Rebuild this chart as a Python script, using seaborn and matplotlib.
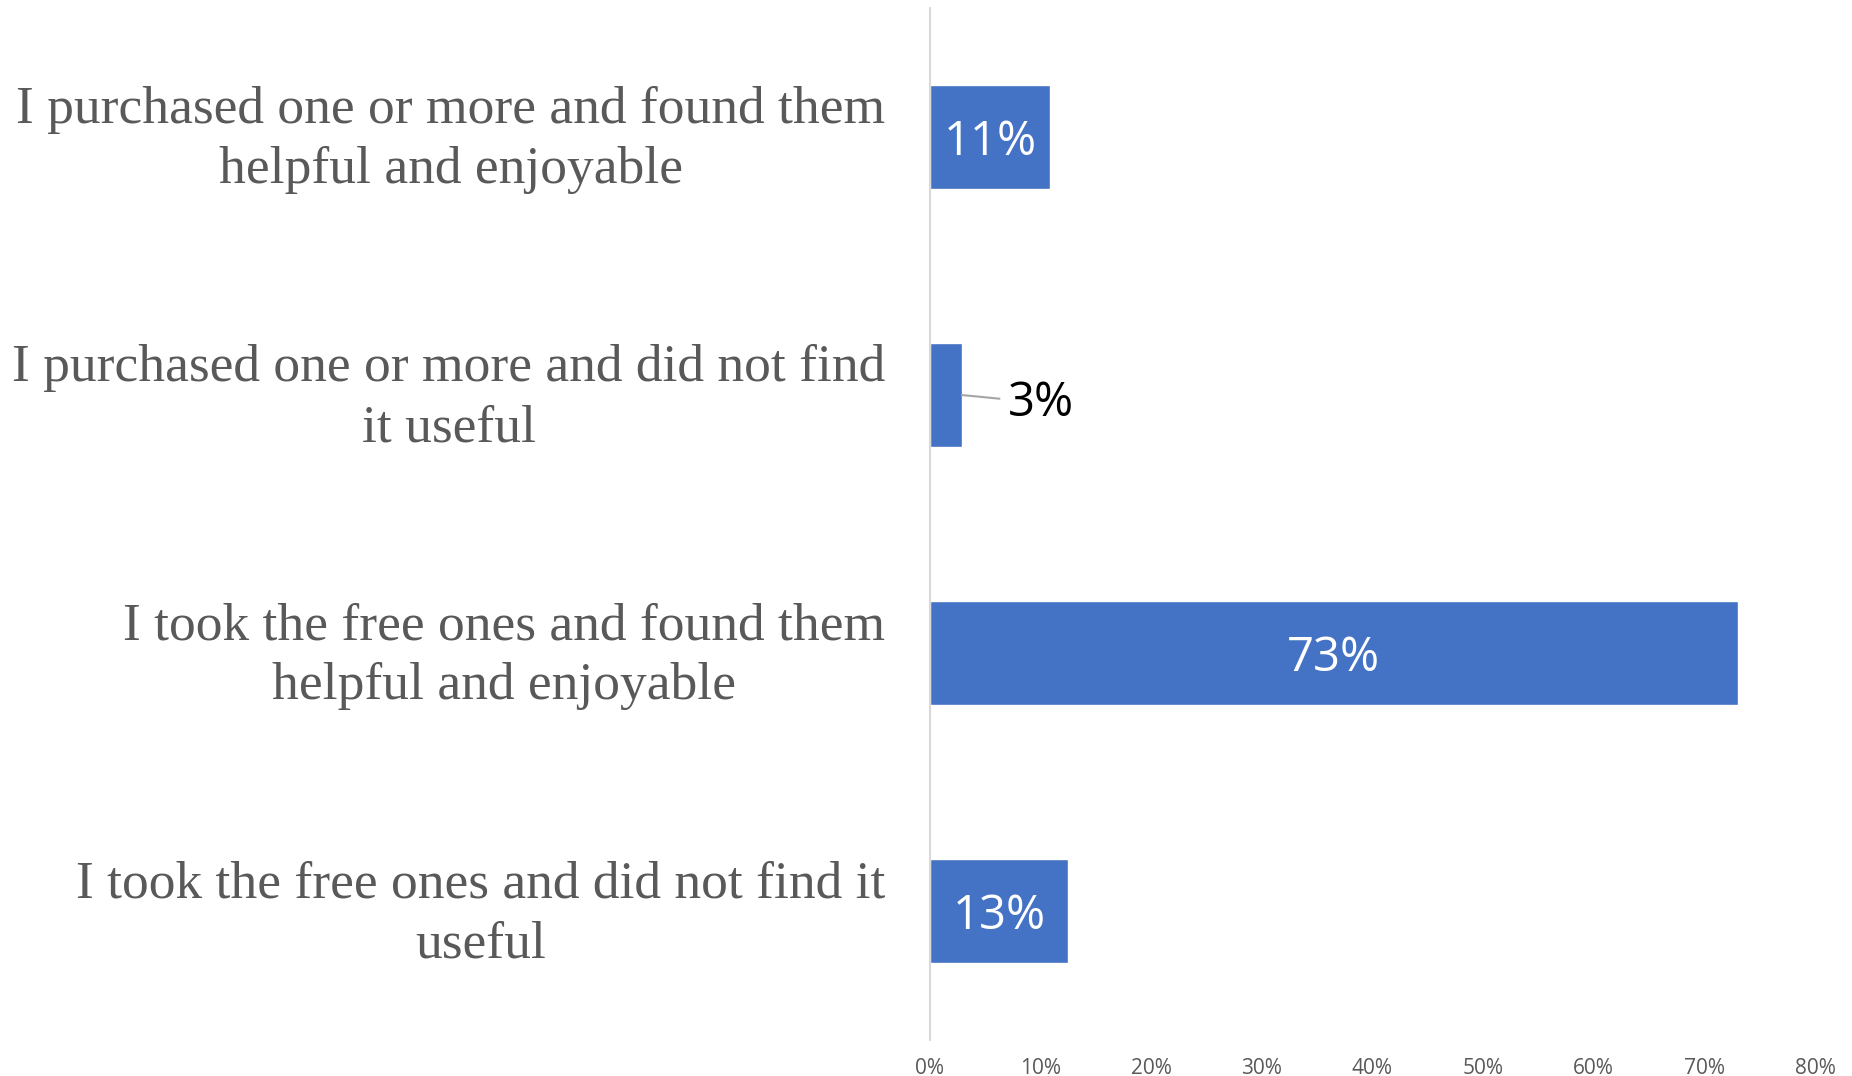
import pandas as pd
import matplotlib.pyplot as plt
import matplotlib.transforms as mtransforms
import seaborn as sns
from matplotlib.ticker import PercentFormatter

responses = [
    'I purchased one or more and found them\nhelpful and enjoyable',
    'I purchased one or more and did not find\nit useful',
    'I took the free ones and found them\nhelpful and enjoyable',
    'I took the free ones and did not find it\nuseful',
]
shares = [0.109, 0.029, 0.730, 0.125]
labels = ['11%', '3%', '73%', '13%']

df = pd.DataFrame({'response': responses, 'share': shares})

sns.set_style('white')
fig = plt.figure(figsize=(18.52, 10.76), dpi=100)
ax = fig.add_axes([0.502, 0.0335, 0.478, 0.959])

sns.barplot(data=df, x='share', y='response', color='#4472C4', width=0.4,
            saturation=1, ax=ax)

ax.set_xlim(0, 0.8)
ax.set_xticks([i / 10 for i in range(9)])
ax.xaxis.set_major_formatter(PercentFormatter(1.0, decimals=0))
ax.set_xlabel('')
ax.set_ylabel('')

for s in ['top', 'right', 'bottom']:
    ax.spines[s].set_visible(False)
ax.spines['left'].set_color('#d9d9d9')
ax.spines['left'].set_linewidth(1.5)

ax.tick_params(axis='x', length=0, pad=13, labelsize=15, labelcolor='#595959')
ax.tick_params(axis='y', length=0, pad=32)
for t in ax.get_xticklabels():
    t.set_family('Open Sans')
# nudge the category labels up a little so they sit level with the bars
shift_up = mtransforms.ScaledTranslation(0, 6 / 72, fig.dpi_scale_trans)
for t in ax.get_yticklabels():
    t.set_family('Liberation Serif')
    t.set_fontsize(38.5)
    t.set_color('#595959')
    t.set_multialignment('center')
    t.set_linespacing(1.33)
    t.set_transform(t.get_transform() + shift_up)

for i, (v, lab) in enumerate(zip(shares, labels)):
    if v > 0.05:
        ax.text(v / 2, i + 0.02, lab, ha='center', va='center', color='white',
                fontsize=34, family='Open Sans')
    else:
        ax.annotate(lab, xy=(v, i), xytext=(0.071, i + 0.03),
                    ha='left', va='center', color='black', fontsize=34,
                    family='Open Sans',
                    arrowprops=dict(arrowstyle='-', color='#a6a6a6', lw=1.5,
                                    shrinkA=4, shrinkB=0))

fig.savefig('out.png', dpi=100)
